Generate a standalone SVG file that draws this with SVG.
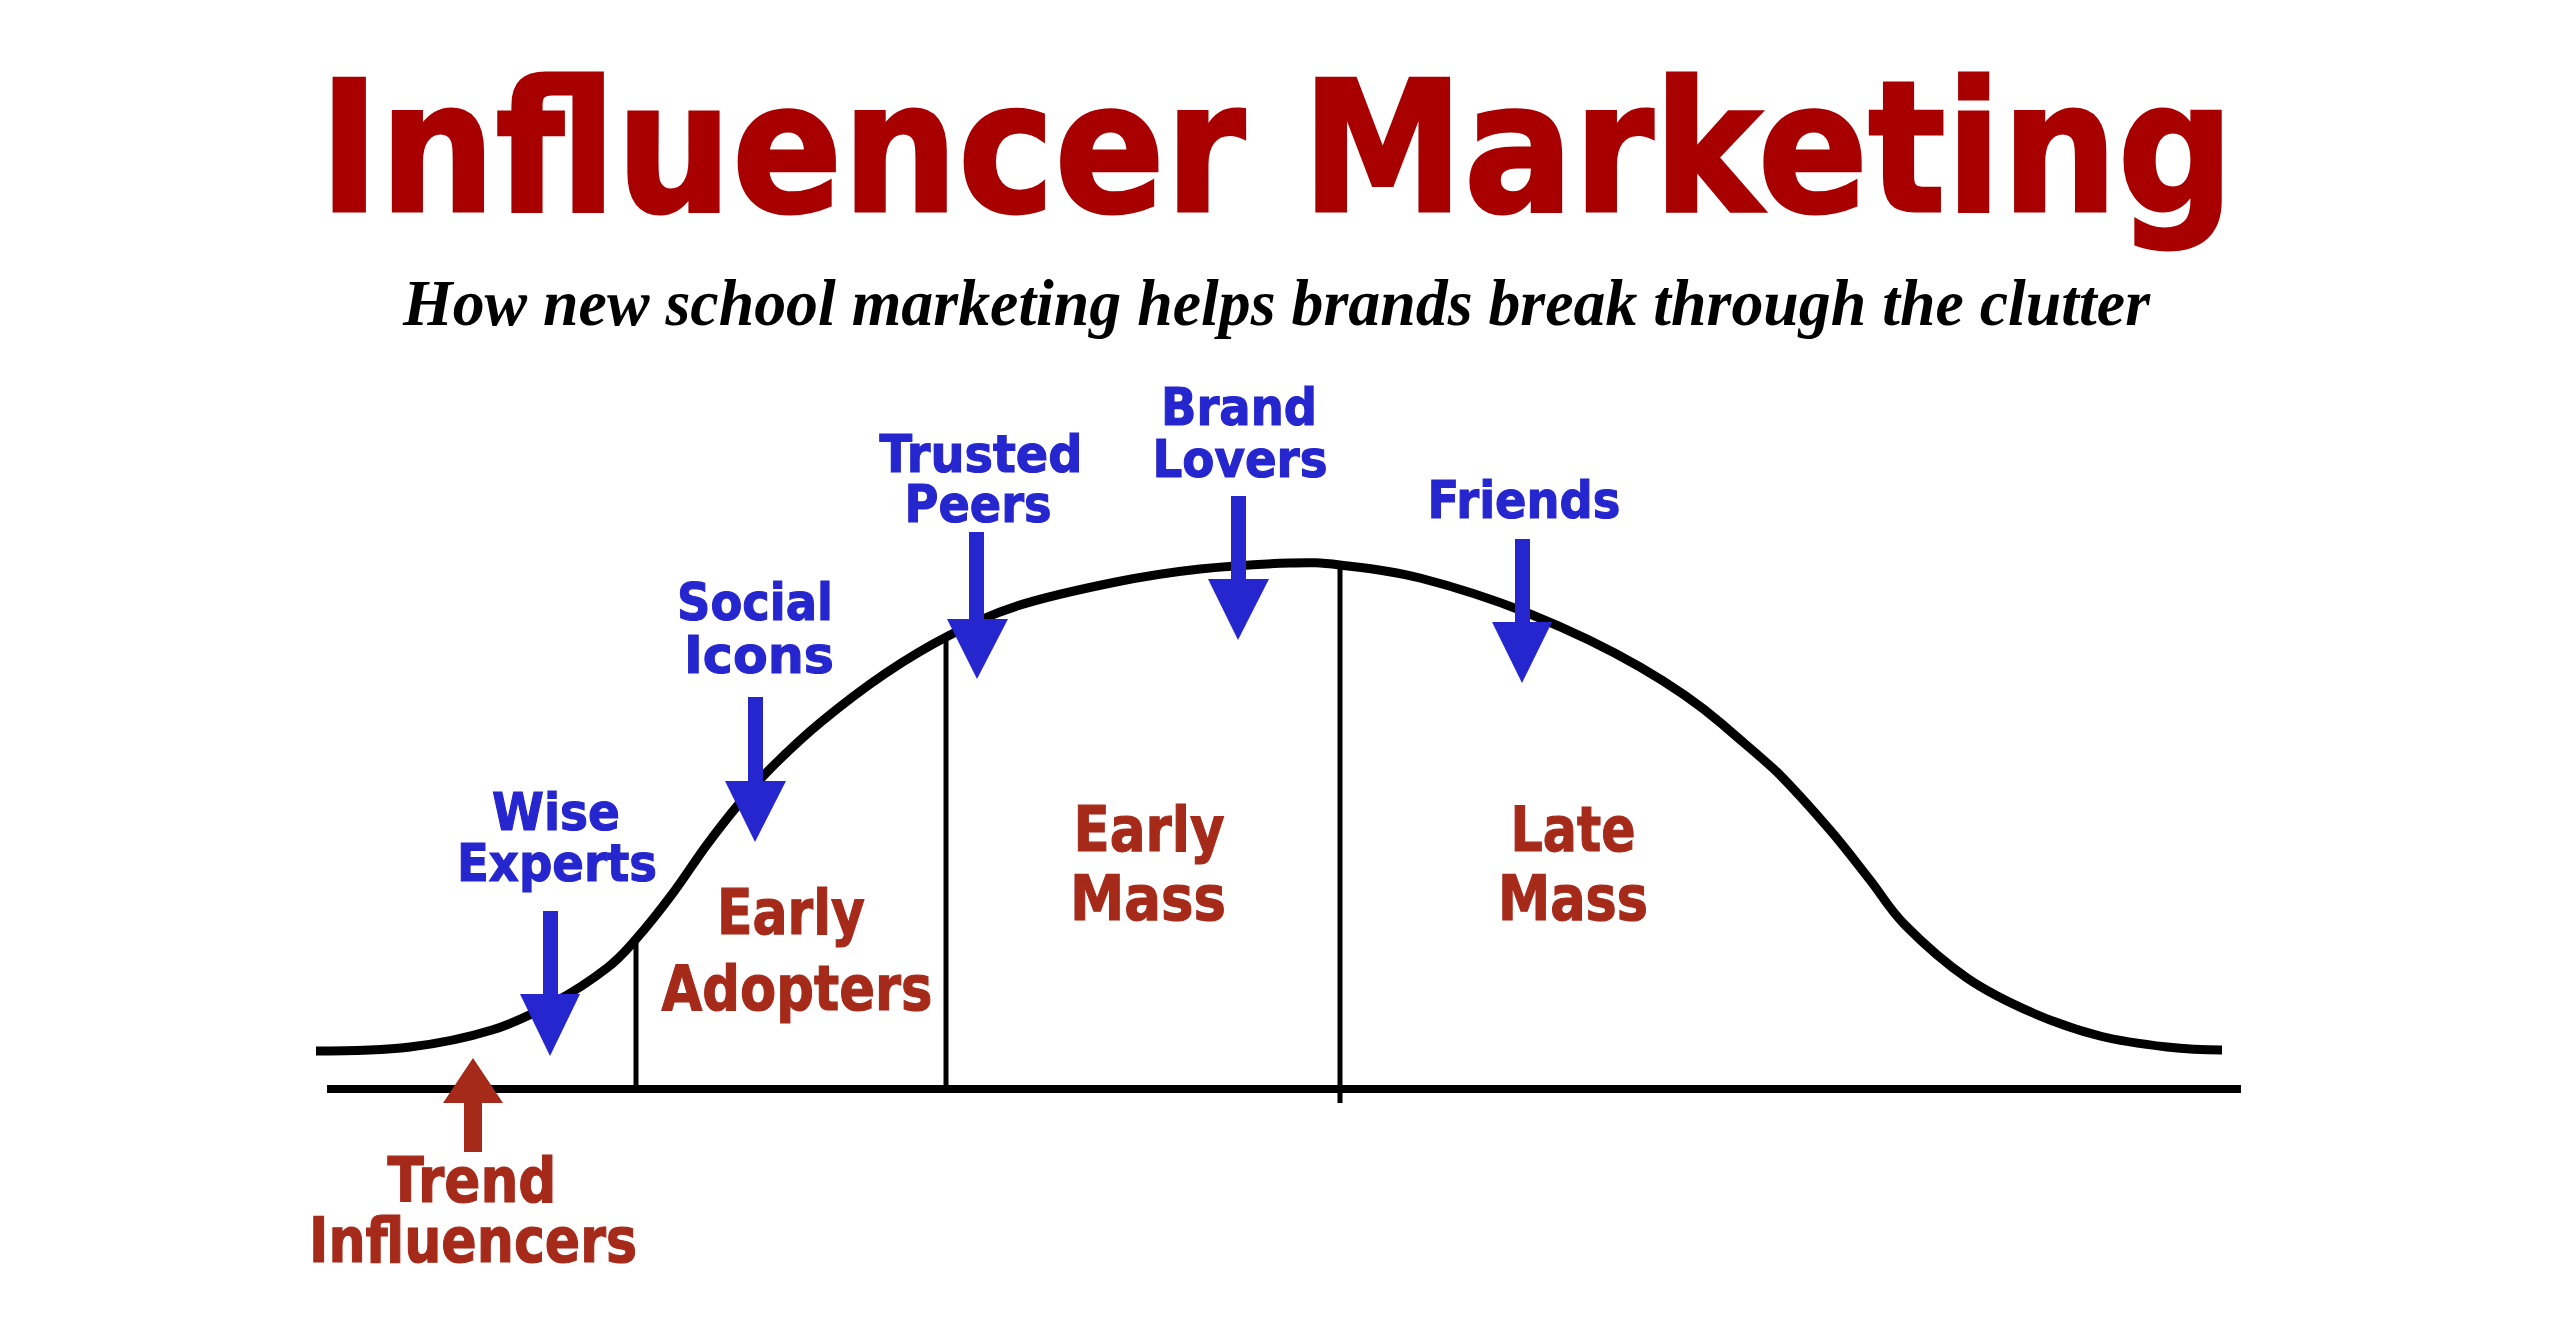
<svg xmlns="http://www.w3.org/2000/svg" width="2560" height="1334" viewBox="0 0 2560 1334">
<style>
.title{font-family:"DejaVu Sans","Liberation Sans",sans-serif;font-weight:bold;fill:#a80000;stroke:#a80000;stroke-width:3px}
.sub{font-family:"Liberation Serif","DejaVu Serif",serif;font-style:italic;font-weight:bold;fill:#000}
.blue{font-family:"DejaVu Sans","Liberation Sans",sans-serif;font-weight:bold;fill:#2626cf;stroke:#2626cf;stroke-width:1.2px;font-size:52px;text-anchor:middle}
.red{font-family:"DejaVu Sans","Liberation Sans",sans-serif;font-weight:bold;fill:#a52a1a;stroke:#a52a1a;stroke-width:1.2px;font-size:62px;text-anchor:middle}
.ln{stroke:#000;fill:none}
.ba{fill:#2626cf}
.ra{fill:#a52a1a}
</style>
<rect x="0" y="0" width="2560" height="1334" fill="#fff"/>
<g id="title">
<text class="title" x="319" y="211" font-size="182" textLength="1915" lengthAdjust="spacingAndGlyphs">Influencer Marketing</text>
<text class="sub" x="403" y="325" font-size="66" textLength="1747" lengthAdjust="spacingAndGlyphs">How new school marketing helps brands break through the clutter</text>
</g>
<g id="chart">
<line class="ln" x1="327" y1="1089" x2="2241" y2="1089" stroke-width="8"/>
<path class="ln" stroke-width="9" d="M316,1051 C347,1051 380.67,1050.5 410,1047 C439.33,1043.5 468.17,1037.33 492,1030 C515.83,1022.67 533.83,1013.33 553,1003 C572.17,992.67 593,978.83 607,968 C621,957.17 626,950.5 637,938 C648,925.5 661.5,908.33 673,893 C684.5,877.67 695.17,860.67 706,846 C716.83,831.33 727.17,818 738,805 C748.83,792 757.17,781.83 771,768 C784.83,754.17 801.83,737.83 821,722 C840.17,706.17 864.5,687.5 886,673 C907.5,658.5 928.17,646.17 950,635 C971.83,623.83 989.33,614.83 1017,606 C1044.67,597.17 1085.5,588.17 1116,582 C1146.5,575.83 1171,572.17 1200,569 C1229,565.83 1266.67,563.67 1290,563 C1313.33,562.33 1318.33,562.5 1340,565 C1361.67,567.5 1388.33,569.83 1420,578 C1451.67,586.17 1493.33,599.17 1530,614 C1566.67,628.83 1608.33,648.67 1640,667 C1671.67,685.33 1700,705 1722,724 C1746,745 1760,756 1777,772 C1795,790 1814.17,811.67 1830,830 C1845.83,848.33 1857.5,864.17 1870,880 C1882.5,895.83 1888.83,908.67 1905,925 C1921.17,941.33 1945.67,963.33 1967,978 C1988.33,992.67 2010.83,1003.33 2033,1013 C2055.33,1022.67 2077.67,1030.33 2100,1036 C2122.33,1041.67 2146.67,1044.67 2167,1047 C2187.33,1049.33 2204,1050 2222,1050"/>
<line class="ln" x1="636" y1="938" x2="636" y2="1089" stroke-width="5"/>
<line class="ln" x1="946" y1="636" x2="946" y2="1089" stroke-width="5"/>
<line class="ln" x1="1340" y1="565" x2="1340" y2="1103" stroke-width="5"/>
</g>
<g id="connectors">
<g id="arrow-wise"><rect class="ba" x="543" y="911" width="15" height="84"/><polygon class="ba" points="520,994 580,994 550,1056"/></g>
<g id="arrow-social"><rect class="ba" x="748" y="697" width="15" height="85"/><polygon class="ba" points="725,781 786,781 755,842"/></g>
<g id="arrow-trusted"><rect class="ba" x="969" y="532" width="15" height="88"/><polygon class="ba" points="947,619 1008,619 977,679"/></g>
<g id="arrow-brand"><rect class="ba" x="1231" y="496" width="15" height="84"/><polygon class="ba" points="1208,579 1269,579 1238,640"/></g>
<g id="arrow-friends"><rect class="ba" x="1515" y="539" width="15" height="84"/><polygon class="ba" points="1492,622 1552,622 1522,683"/></g>
<g id="arrow-trend"><rect class="ra" x="464" y="1102" width="18" height="50"/><polygon class="ra" points="443,1103 503,1103 473,1058"/></g>
</g>
<g id="node-wise"><text class="blue" x="556" y="830" textLength="128" lengthAdjust="spacingAndGlyphs">Wise</text><text class="blue" x="557" y="881" textLength="200" lengthAdjust="spacingAndGlyphs">Experts</text></g>
<g id="node-social"><text class="blue" x="755" y="620" textLength="156" lengthAdjust="spacingAndGlyphs">Social</text><text class="blue" x="759" y="673" textLength="150" lengthAdjust="spacingAndGlyphs">Icons</text></g>
<g id="node-trusted"><text class="blue" x="981" y="472" textLength="203" lengthAdjust="spacingAndGlyphs">Trusted</text><text class="blue" x="978" y="522" textLength="147" lengthAdjust="spacingAndGlyphs">Peers</text></g>
<g id="node-brand"><text class="blue" x="1239" y="425" textLength="156" lengthAdjust="spacingAndGlyphs">Brand</text><text class="blue" x="1240" y="477" textLength="175" lengthAdjust="spacingAndGlyphs">Lovers</text></g>
<g id="node-friends"><text class="blue" x="1524" y="518" textLength="193" lengthAdjust="spacingAndGlyphs">Friends</text></g>
<g id="node-early-adopters"><text class="red" x="791" y="934" textLength="148" lengthAdjust="spacingAndGlyphs">Early</text><text class="red" x="797" y="1010" textLength="271" lengthAdjust="spacingAndGlyphs">Adopters</text></g>
<g id="node-early-mass"><text class="red" x="1149" y="851" textLength="151" lengthAdjust="spacingAndGlyphs">Early</text><text class="red" x="1148" y="920" textLength="156" lengthAdjust="spacingAndGlyphs">Mass</text></g>
<g id="node-late-mass"><text class="red" x="1573" y="851" textLength="125" lengthAdjust="spacingAndGlyphs">Late</text><text class="red" x="1573" y="920" textLength="150" lengthAdjust="spacingAndGlyphs">Mass</text></g>
<g id="node-trend"><text class="red" x="472" y="1202" textLength="169" lengthAdjust="spacingAndGlyphs">Trend</text><text class="red" x="473" y="1262" textLength="328" lengthAdjust="spacingAndGlyphs">Influencers</text></g>
</svg>
